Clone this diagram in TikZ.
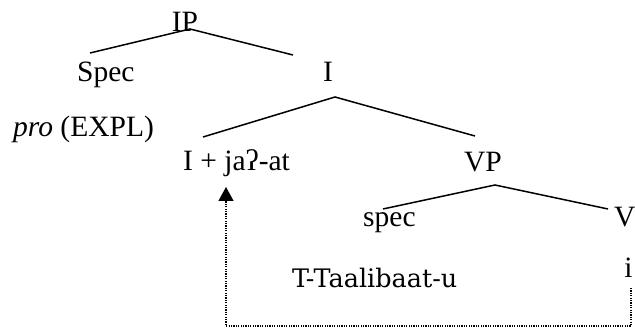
\documentclass[tikz,border=0pt]{standalone}
\usepackage{fontspec}
\setmainfont{Liberation Serif}
\newfontfamily\dvs{DejaVu Serif}
\usetikzlibrary{arrows.meta}
\begin{document}
\begin{tikzpicture}[x=1pt,y=-1pt,
  lab/.style={inner sep=0pt,font=\fontsize{29.5}{34}\selectfont},
  branch/.style={line width=1.5pt},
  trace/.style={line width=1.3pt,dash pattern=on 1.2pt off 1.2pt}]
\useasboundingbox (0,0) rectangle (635,328);
% labels
\node[lab,anchor=base] (ip) at (185,32) {IP};
\node[lab,anchor=base west] (spec1) at (77,82) {Spec};
\node[lab,anchor=base] (ibar) at (328,82) {I};
\node[lab,anchor=base west] (pro) at (13,137) {\textit{pro} (EXPL)};
\node[lab,anchor=base west] (infl) at (183,171) {I + jaʔ-at};
\node[lab,anchor=base] (vp) at (483,172) {VP};
\node[lab,anchor=base west] (spec2) at (363,227) {spec};
\node[lab,anchor=base west] (v) at (614,227) {V};
\node[inner sep=0pt,anchor=base west,font=\dvs\fontsize{25.5}{30}\selectfont] (subj) at (292,288) {T-Taalibaat-u};
\node[lab,anchor=base] (trc) at (628.5,278) {i};
% branch points
\coordinate (ipt) at (190,29);
\coordinate (ipl) at (90,53);
\coordinate (ipr) at (293,55);
\coordinate (it) at (335,97);
\coordinate (il) at (203,137);
\coordinate (ir) at (475,136);
\coordinate (vt) at (495,185);
\coordinate (vl) at (383,209);
\coordinate (vr) at (608,209);
\draw[branch] (ipl) -- (ipt) -- (ipr);
\draw[branch] (il) -- (it) -- (ir);
\draw[branch] (vl) -- (vt) -- (vr);
% movement
\coordinate (d0) at (631,288);
\coordinate (d1) at (631,326);
\coordinate (d2) at (226,326);
\coordinate (d3) at (226,187);
\draw[trace,-{Triangle[width=15pt,length=14pt]}] (d0) -- (d1) -- (d2) -- (d3);
\end{tikzpicture}
\end{document}
